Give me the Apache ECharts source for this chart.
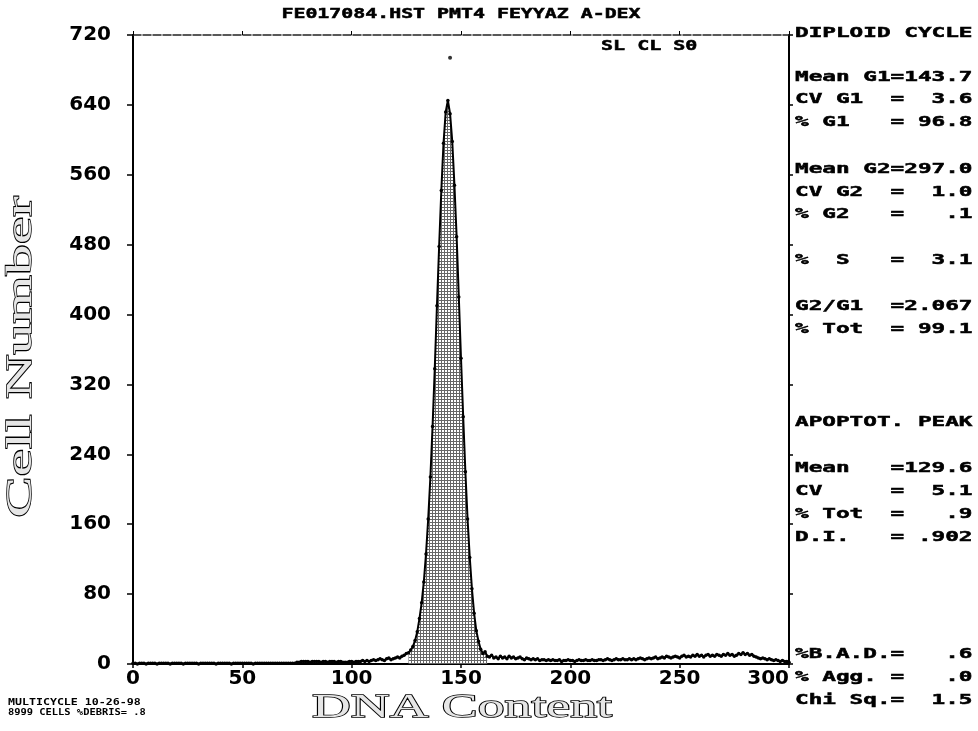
<!DOCTYPE html>
<html><head><meta charset="utf-8">
<script src="https://cdn.jsdelivr.net/npm/echarts@6/dist/echarts.min.js"></script>
<style>html,body{margin:0;padding:0;background:#fff}#c{width:978px;height:731px}</style>
</head><body><div id="c"></div>
<script>
// ---- data ----
const xTicks = [0, 50, 100, 150, 200, 250, 300];
const yTicks = [0, 80, 160, 240, 320, 400, 480, 560, 640, 720];
// counts for channels 0..119
const debrisLow = [
 1,1,0,1,1,1,0,1,1,1,1,0,1,1,1,1,1,0,1,1,
 1,1,1,0,1,1,1,1,1,1,0,1,1,1,1,1,1,1,0,1,
 1,1,1,1,1,0,1,1,1,1,1,1,1,1,1,0,1,1,1,1,
 1,1,1,1,1,1,1,1,1,1,1,1,1,1,1,2,2,3,3,3,
 3,2,3,3,3,3,2,3,3,2,3,3,3,2,3,3,2,2,2,3,
 3,2,3,3,3,4,3,4,3,4,5,4,5,6,5,4,6,7,5,6];
// counts for channels 120..168
const peakCounts = [
 7,8,7,9,10,12,13,16,20,27,37,52,70,94,126,166,214,272,338,410,
 478,542,596,632,645,630,598,548,489,420,350,283,220,166,122,86,58,38,26,17,
 12,14,9,8,10,7,8,6,9];
// counts for channels 169..300
const debrisHigh = [
 7,8,6,9,7,8,6,7,8,6,5,7,6,5,6,5,6,4,5,5,
 4,5,4,5,4,4,5,3,4,4,5,4,4,3,4,5,4,4,5,4,
 4,5,4,4,5,5,4,5,6,5,4,5,6,5,5,6,5,5,6,5,
 6,5,6,7,6,5,6,7,6,7,8,6,7,8,7,9,8,7,8,9,
 8,7,9,10,8,9,8,10,9,11,9,10,8,10,11,9,10,9,11,10,
 9,11,10,12,10,11,9,10,12,11,13,11,12,10,11,9,8,7,6,7,
 6,5,6,5,4,5,4,3,4,3,3,2];
const g1FillRange = [126, 162];
const peakMarker = [[145, 694]];

const titleText = 'FE017084.HST PMT4 FEYYAZ A-DEX';
const cornerText = 'SL CL S0';
const panelLines = [
 ['DIPLOID CYCLE', 33],
 ['Mean G1=143.7', 77], ['CV G1  =  3.6', 99], ['% G1   = 96.8', 122],
 ['Mean G2=297.0', 169], ['CV G2  =  1.0', 192], ['% G2   =   .1', 214],
 ['%  S   =  3.1', 260],
 ['G2/G1  =2.067', 306], ['% Tot  = 99.1', 329],
 ['APOPTOT. PEAK', 422],
 ['Mean   =129.6', 468], ['CV     =  5.1', 491], ['% Tot  =   .9', 514], ['D.I.   = .902', 537],
 ['%B.A.D.=   .6', 654], ['% Agg. =   .0', 677], ['Chi Sq.=  1.5', 700]
];
const footLines = ['MULTICYCLE 10-26-98', '8999 CELLS %DEBRIS= .8'];

// ---- build ----
const counts = debrisLow.concat(peakCounts, debrisHigh);
const histData = counts.map((v, i) => [i, v]);
const fillData = histData.filter(d => d[0] >= g1FillRange[0] && d[0] <= g1FillRange[1]);

// stipple pattern
const pc = document.createElement('canvas');
pc.width = 3; pc.height = 3;
const pctx = pc.getContext('2d');
pctx.fillStyle = '#fff'; pctx.fillRect(0,0,3,3);
pctx.fillStyle = '#666'; pctx.fillRect(0,0,3,1); pctx.fillRect(0,0,1,3);

const mono = '"DejaVu Sans Mono", monospace';
const txt = (t, x, y, sx, size, align) => ({type:'text', x:x, y:y, scaleX:sx,
  style:{text:t, font:'bold '+size+'px '+mono, fill:'#000', stroke:'#000', lineWidth:0.5, textAlign:align, textVerticalAlign:'middle'}});
const graphics = [];
graphics.push(txt(titleText, 461, 14, 1.42, 14, 'center'));
graphics.push(txt(cornerText, 601, 46, 1.43, 14, 'left'));
panelLines.forEach(([t, y]) => graphics.push(txt(t, 795, y, 1.62, 14, 'left')));
graphics.push({type:'text', x:8, y:703, scaleX:1.45, style:{text:footLines[0], font:'bold 8px '+mono, fill:'#000', textAlign:'left', textVerticalAlign:'middle'}});
graphics.push({type:'text', x:8, y:713, scaleX:1.3, style:{text:footLines[1], font:'bold 8px '+mono, fill:'#000', textAlign:'left', textVerticalAlign:'middle'}});
graphics.push({type:'text', x:22, y:357, rotation:Math.PI/2, scaleX:1.72, style:{text:'Cell Number', font:'36px "Liberation Serif", serif', fill:'#e6e6e6', stroke:'#000', lineWidth:1.5, textAlign:'center', textVerticalAlign:'middle'}});
graphics.push({type:'text', x:462, y:708, scaleX:1.58, style:{text:'DNA Content', font:'34px "Liberation Serif", serif', fill:'#e6e6e6', stroke:'#000', lineWidth:1.5, textAlign:'center', textVerticalAlign:'middle'}});

const chart = echarts.init(document.getElementById('c'), null, {renderer:'canvas'});
const labelFont = {fontFamily:'"DejaVu Sans", sans-serif', fontWeight:'bold', fontSize:20, color:'#000'};
chart.setOption({
  animation:false,
  backgroundColor:'#fff',
  grid:{left:133, right:189, top:35, bottom:67, containLabel:false},
  xAxis:[
    {type:'value', min:xTicks[0], max:xTicks[xTicks.length-1], interval:50, position:'bottom',
     axisLine:{show:true, onZero:false, lineStyle:{color:'#000', width:2}},
     axisTick:{show:true, inside:false, length:4, lineStyle:{color:'#000', width:1.5}},
     axisLabel:Object.assign({margin:5, alignMaxLabel:'right'}, labelFont), splitLine:{show:false}},
    {type:'value', min:xTicks[0], max:xTicks[xTicks.length-1], interval:50, position:'top',
     axisLine:{show:true, onZero:false, lineStyle:{color:'#222', width:1.5, type:[8,2]}},
     axisTick:{show:true, inside:false, length:4, lineStyle:{color:'#000'}},
     axisLabel:{show:false}, splitLine:{show:false}}
  ],
  yAxis:[
    {type:'value', min:yTicks[0], max:yTicks[yTicks.length-1], interval:80, position:'left',
     axisLine:{show:true, onZero:false, lineStyle:{color:'#000', width:2}},
     axisTick:{show:true, inside:false, length:6, lineStyle:{color:'#000', width:1.5}},
     axisLabel:Object.assign({margin:22}, labelFont), splitLine:{show:false}},
    {type:'value', min:yTicks[0], max:yTicks[yTicks.length-1], interval:80, position:'right',
     axisLine:{show:true, onZero:false, lineStyle:{color:'#000', width:2}},
     axisTick:{show:true, inside:false, length:4, lineStyle:{color:'#000', width:1.5}},
     axisLabel:{show:false}, splitLine:{show:false}}
  ],
  series:[
    {type:'line', data:fillData, xAxisIndex:0, yAxisIndex:0, showSymbol:false, lineStyle:{width:0},
     areaStyle:{color:{image:pc, repeat:'repeat'}, opacity:1}, z:1},
    {type:'line', data:histData, xAxisIndex:0, yAxisIndex:0, symbol:'circle', symbolSize:3.5, showSymbol:true,
     itemStyle:{color:'#000'}, lineStyle:{color:'#000', width:2}, z:2},
    {type:'scatter', data:peakMarker, xAxisIndex:0, yAxisIndex:0, symbol:'circle', symbolSize:4, itemStyle:{color:'#000'}, z:3}
  ],
  graphic:graphics
});
</script></body></html>
